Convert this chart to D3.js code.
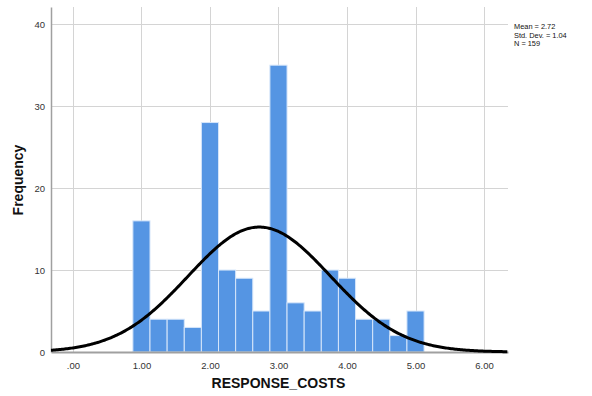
<!DOCTYPE html>
<html>
<head>
<meta charset="utf-8">
<script src="https://cdn.jsdelivr.net/npm/d3@7"></script>
<style>
  body { margin: 0; background: #fff; }
  svg { display: block; font-family: "Liberation Sans", Arial, sans-serif; }
</style>
</head>
<body>
<div id="chart"></div>
<script>
// histogram bins (centre of each bin, width 0.25)
const binCenters = [1.00, 1.25, 1.50, 1.75, 2.00, 2.25, 2.50, 2.75, 3.00, 3.25, 3.50, 3.75, 4.00, 4.25, 4.50, 4.75, 5.00];
const counts = [16, 4, 4, 3, 28, 10, 9, 5, 35, 6, 5, 10, 9, 4, 4, 2, 5];
const binWidth = 0.25;
const xTicks = [0, 1, 2, 3, 4, 5, 6];
const yTicks = [0, 10, 20, 30, 40];
const stats = { mean: 2.72, sd: 1.04, n: 159 };
const statLines = ["Mean = 2.72", "Std. Dev. = 1.04", "N = 159"];

const width = 592, height = 396;
const margin = { top: 7, right: 84, bottom: 44, left: 51 };

const svg = d3.select("#chart").append("svg")
  .attr("width", width)
  .attr("height", height);

const x = d3.scaleLinear()
  .domain([-0.32, 6.35])
  .range([margin.left, width - margin.right]);

const y = d3.scaleLinear()
  .domain([0, 42.1])
  .range([height - margin.bottom, margin.top]);

// grid
const grid = svg.append("g")
  .attr("stroke", "#d4d4d4")
  .attr("stroke-width", 1);
grid.selectAll("line.v")
  .data(xTicks)
  .join("line")
    .attr("class", "v")
    .attr("x1", d => Math.round(x(d)) + 0.5)
    .attr("x2", d => Math.round(x(d)) + 0.5)
    .attr("y1", margin.top)
    .attr("y2", y(0));
grid.selectAll("line.h")
  .data(yTicks.slice(1))
  .join("line")
    .attr("class", "h")
    .attr("y1", d => Math.round(y(d)) + 0.5)
    .attr("y2", d => Math.round(y(d)) + 0.5)
    .attr("x1", margin.left)
    .attr("x2", width - margin.right);

// bars
svg.append("g")
  .selectAll("rect")
  .data(binCenters)
  .join("rect")
    .attr("x", d => x(d - binWidth / 2))
    .attr("width", d => x(d + binWidth / 2) - x(d - binWidth / 2))
    .attr("y", (d, i) => y(counts[i]))
    .attr("height", (d, i) => y(0) - y(counts[i]))
    .attr("fill", "#5595e3")
    .attr("stroke", "#d6e6fa")
    .attr("stroke-width", 1);

// axes
svg.append("g")
  .attr("transform", `translate(0,${y(0)})`)
  .call(d3.axisBottom(x).tickValues(xTicks).tickSize(0).tickPadding(10)
    .tickFormat(d => d === 0 ? ".00" : d3.format(".2f")(d)))
  .call(g => g.select(".domain").attr("stroke", "#a0a0a0").attr("stroke-width", 2))
  .call(g => g.selectAll("text").attr("font-size", 9.5).attr("fill", "#333"));

svg.append("g")
  .attr("transform", `translate(${margin.left},0)`)
  .call(d3.axisLeft(y).tickValues(yTicks).tickSize(0).tickPadding(6))
  .call(g => g.select(".domain").attr("stroke", "#a0a0a0").attr("stroke-width", 1.5))
  .call(g => g.selectAll("text").attr("font-size", 9.5).attr("fill", "#333"));

// normal curve
const scale = stats.n * binWidth;
const pdf = v => scale * Math.exp(-0.5 * ((v - stats.mean) / stats.sd) ** 2) / (stats.sd * Math.sqrt(2 * Math.PI));
const curveX = d3.range(x.domain()[0], x.domain()[1] + 0.001, 0.02);
const line = d3.line()
  .x(d => x(d))
  .y(d => y(pdf(d)));
svg.append("path")
  .datum(curveX)
  .attr("fill", "none")
  .attr("stroke", "#000")
  .attr("stroke-width", 3)
  .attr("stroke-linejoin", "round")
  .attr("d", line);

// axis titles
svg.append("text")
  .attr("x", x(3))
  .attr("y", 388)
  .attr("text-anchor", "middle")
  .attr("font-size", 14)
  .attr("font-weight", "bold")
  .attr("fill", "#111")
  .text("RESPONSE_COSTS");

svg.append("text")
  .attr("transform", `translate(23,${180}) rotate(-90)`)
  .attr("text-anchor", "middle")
  .attr("font-size", 14)
  .attr("font-weight", "bold")
  .attr("fill", "#111")
  .text("Frequency");

// stats box
svg.append("g")
  .selectAll("text")
  .data(statLines)
  .join("text")
    .attr("x", 514)
    .attr("y", (d, i) => 29 + i * 8.5)
    .attr("font-size", 7.4)
    .attr("fill", "#111")
    .text(d => d);
</script>
</body>
</html>
